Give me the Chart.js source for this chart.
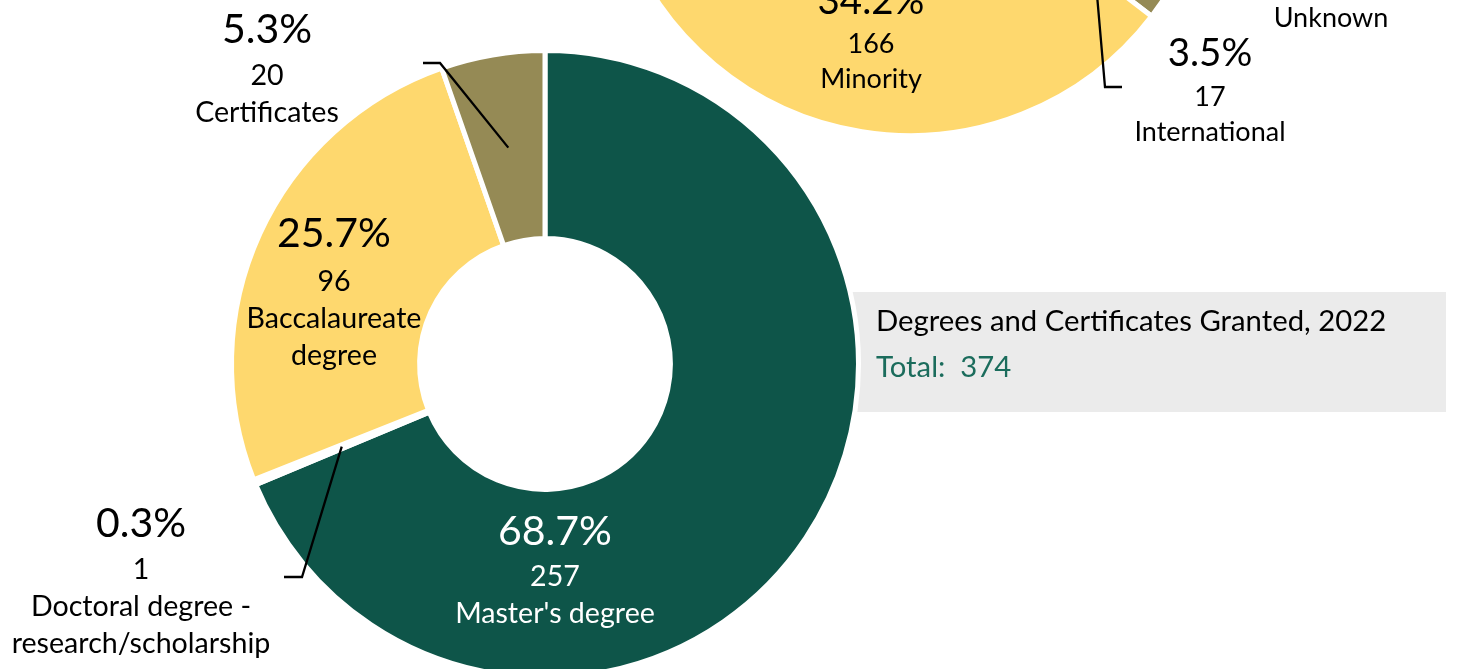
<!DOCTYPE html>
<html>
<head>
<meta charset="utf-8">
<script src="https://cdn.jsdelivr.net/npm/chart.js@4.4.0/dist/chart.umd.min.js"></script>
<style>
  html, body { margin: 0; padding: 0; background: #fff; overflow: hidden; }
  #wrap { position: relative; width: 1457px; height: 669px; overflow: hidden; }
  #degrees { position: absolute; left: 0; top: 0; }
  #students { position: absolute; left: 0; top: -400px; }
</style>
</head>
<body>
<div id="wrap">
  <canvas id="degrees" width="1457" height="669"></canvas>
  <canvas id="students" width="1457" height="1069"></canvas>
</div>
<script>
// degrees and certificates granted, 2022
const degreeTypes = ["Master's degree", ['Doctoral degree -', 'research/scholarship'], ['Baccalaureate', 'degree'], 'Certificates'];
const degreeCounts = [257, 1, 96, 20];
const degreeColors = ['#0e5549', '#ffffff', '#fed86e', '#958a55'];

// student groups (upper ring)
const studentGroups = ['White', 'Unknown', 'International', 'Minority'];
const studentCounts = [292, 10, 17, 166];
const studentColors = ['#0e5549', '#c8c8c8', '#958a55', '#fed86e'];

const boxTitle = 'Degrees and Certificates Granted, 2022';
const FONT = 'Lato';

// percent / count / name block for each slice, with optional leader line
const sliceLabels = {
  id: 'sliceLabels',
  afterDatasetsDraw(chart, args, opts) {
    const ctx = chart.ctx;
    const meta = chart.getDatasetMeta(0);
    const data = chart.data.datasets[0].data;
    const total = data.reduce((a, b) => a + b, 0);
    const dy = opts.shiftY || 0;
    ctx.save();
    ctx.textAlign = 'center';
    ctx.textBaseline = 'alphabetic';
    opts.items.forEach(item => {
      const i = item.index;
      if (item.leader) {
        const p = meta.data[i].getProps(['x', 'y', 'startAngle', 'endAngle', 'innerRadius', 'outerRadius'], true);
        const mid = (p.startAngle + p.endAngle) / 2;
        const r = (p.innerRadius + p.outerRadius) / 2;
        const [x1, x2, ly] = item.leader;
        ctx.beginPath();
        ctx.moveTo(x1, ly + dy);
        ctx.lineTo(x2, ly + dy);
        ctx.lineTo(p.x + Math.cos(mid) * r, p.y + Math.sin(mid) * r);
        ctx.strokeStyle = '#000';
        ctx.lineWidth = 2.3;
        ctx.lineJoin = 'miter';
        ctx.stroke();
      }
      ctx.fillStyle = item.color || '#000';
      ctx.font = opts.pctSize + 'px ' + FONT;
      ctx.fillText((data[i] / total * 100).toFixed(1) + '%', item.x, item.y + dy);
      ctx.font = opts.textSize + 'px ' + FONT;
      ctx.fillText(String(data[i]), item.x, item.countY + dy);
      const name = chart.data.labels[i];
      const lines = Array.isArray(name) ? name : [name];
      lines.forEach((line, k) => {
        ctx.fillText(line, item.x, item.countY + dy + opts.lineGap * (k + 1));
      });
    });
    ctx.restore();
  }
};

// grey caption box to the right of the ring
const infoBox = {
  id: 'infoBox',
  beforeDatasetsDraw(chart) {
    const ctx = chart.ctx;
    ctx.save();
    ctx.fillStyle = '#ebebeb';
    ctx.fillRect(820, 292, 626, 120);
    ctx.restore();
  },
  afterDraw(chart) {
    const ctx = chart.ctx;
    const total = chart.data.datasets[0].data.reduce((a, b) => a + b, 0);
    ctx.save();
    ctx.textAlign = 'left';
    ctx.textBaseline = 'alphabetic';
    ctx.font = '29.3px ' + FONT;
    ctx.fillStyle = '#000';
    ctx.fillText(boxTitle, 876, 331);
    ctx.fillStyle = '#1b6c5c';
    ctx.fillText('Total:  ' + total, 876, 377);
    ctx.restore();
  }
};

new Chart(document.getElementById('degrees'), {
  type: 'doughnut',
  data: {
    labels: degreeTypes,
    datasets: [{
      data: degreeCounts,
      backgroundColor: degreeColors,
      borderColor: '#ffffff',
      borderWidth: 5,
      hoverOffset: 0
    }]
  },
  options: {
    responsive: false,
    animation: false,
    events: [],
    radius: 313.5,
    cutout: '40%',
    rotation: 0,
    layout: { padding: { left: 0, right: 367, top: 59, bottom: 0 } },
    plugins: {
      legend: { display: false },
      tooltip: { enabled: false },
      sliceLabels: {
        pctSize: 41, textSize: 28.6, lineGap: 37,
        items: [
          { index: 0, x: 555, y: 545, countY: 586, color: '#ffffff' },
          { index: 1, x: 141, y: 537, countY: 579, leader: [284, 302, 577] },
          { index: 2, x: 334, y: 247, countY: 291 },
          { index: 3, x: 267, y: 43, countY: 85, leader: [423, 440, 63] }
        ]
      }
    }
  },
  plugins: [infoBox, sliceLabels]
});

new Chart(document.getElementById('students'), {
  type: 'doughnut',
  data: {
    labels: studentGroups,
    datasets: [{
      data: studentCounts,
      backgroundColor: studentColors,
      borderColor: '#ffffff',
      borderWidth: 5,
      hoverOffset: 0
    }]
  },
  options: {
    responsive: false,
    animation: false,
    events: [],
    radius: 304.5,
    cutout: '40%',
    rotation: -109.3,
    layout: { padding: { left: 363, right: 0, top: 0, bottom: 607 } },
    plugins: {
      legend: { display: false },
      tooltip: { enabled: false },
      sliceLabels: {
        pctSize: 38.5, textSize: 27, lineGap: 35, shiftY: 400,
        items: [
          { index: 3, x: 871, y: 14, countY: 53 },
          { index: 2, x: 1210, y: 66, countY: 106, leader: [1122, 1105, 87] },
          { index: 1, x: 1331, y: -48, countY: -8 }
        ]
      }
    }
  },
  plugins: [sliceLabels]
});
</script>
</body>
</html>
